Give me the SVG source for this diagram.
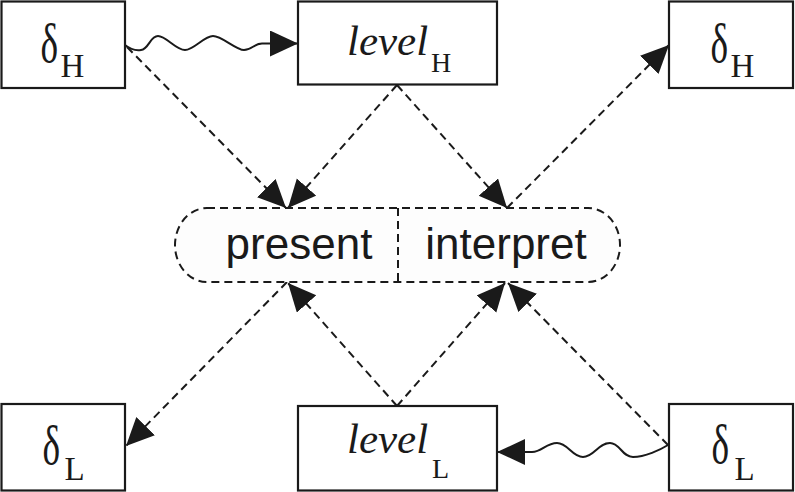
<svg xmlns="http://www.w3.org/2000/svg" width="795" height="492" viewBox="0 0 795 492">
  <defs>
    <style>
      .box { fill: #ffffff; stroke: #1a1a1a; stroke-width: 2.2; }
      .pill { fill: #fdfdfd; stroke: #1a1a1a; stroke-width: 2; stroke-dasharray: 8 5; }
      .dash { fill: none; stroke: #1a1a1a; stroke-width: 2; stroke-dasharray: 8 5; }
      .wave { fill: none; stroke: #1a1a1a; stroke-width: 2; }
      .greek { font-family: "Liberation Serif", "Times New Roman", serif; font-size: 55px; fill: #1a1a1a; }
      .sub { font-family: "Liberation Serif", "Times New Roman", serif; font-size: 33px; fill: #1a1a1a; }
      .lvl { font-family: "Liberation Serif", "Times New Roman", serif; font-size: 43px; font-style: italic; fill: #1a1a1a; }
      .lsub { font-family: "Liberation Serif", "Times New Roman", serif; font-size: 28px; fill: #1a1a1a; }
      .op { font-family: "Liberation Sans", Arial, sans-serif; font-size: 44px; fill: #1a1a1a; text-anchor: middle; }
    </style>
    <marker id="arr" markerUnits="userSpaceOnUse" markerWidth="30" markerHeight="28" refX="28" refY="13" orient="auto">
      <path d="M0,0 L28,13 L0,26 Z" fill="#1a1a1a"/>
    </marker>
  </defs>

  <g id="connectors">
    <path class="wave" marker-end="url(#arr)" d="M125,45 C130,49 135,51 141,50 C149,49 150,36 158,36 C166,36 176,50 185,50 C194,50 204,36 213,36 C222,36 236,50 244,50 C252,50 254,43.5 262,43.5 L298,43.5"/>
    <line class="dash" marker-end="url(#arr)" x1="127" y1="47" x2="286" y2="208"/>
    <line class="dash" marker-end="url(#arr)" x1="397" y1="85" x2="288" y2="208"/>
    <line class="dash" marker-end="url(#arr)" x1="397" y1="85" x2="507" y2="208"/>
    <line class="dash" marker-end="url(#arr)" x1="507" y1="208" x2="669" y2="45"/>
    <line class="dash" marker-end="url(#arr)" x1="287" y1="282" x2="126" y2="446"/>
    <line class="dash" marker-end="url(#arr)" x1="397" y1="406" x2="288" y2="283"/>
    <line class="dash" marker-end="url(#arr)" x1="397" y1="406" x2="505" y2="283"/>
    <line class="dash" marker-end="url(#arr)" x1="668" y1="445" x2="508" y2="283"/>
    <path class="wave" marker-end="url(#arr)" d="M668,445 C660,450 645,457 633,457 C622,457 620,443 610,443 C598,443 594,457 583,457 C572,457 568,443 557,443 C546,443 542,452 532,452 L497,452"/>
  </g>

  <g id="deltaH-left">
    <rect class="box" x="1.5" y="1.5" width="123.5" height="86.5"/>
    <text class="greek" transform="translate(40.5,62) scale(0.68,1)">δ</text>
    <text class="sub" x="60.5" y="77">H</text>
  </g>

  <g id="levelH">
    <rect class="box" x="298" y="1.5" width="199" height="83"/>
    <text class="lvl" x="347" y="55">level</text>
    <text class="lsub" x="431" y="72">H</text>
  </g>

  <g id="deltaH-right">
    <rect class="box" x="669" y="1.5" width="124" height="86.5"/>
    <text class="greek" transform="translate(710.5,62) scale(0.68,1)">δ</text>
    <text class="sub" x="730.5" y="77">H</text>
  </g>

  <g id="present-interpret">
    <rect class="pill" x="175" y="208" width="445" height="74" rx="32" ry="37"/>
    <line class="dash" x1="398" y1="208" x2="398" y2="282"/>
    <text class="op" x="299" y="259">present</text>
    <text class="op" x="506" y="259">interpret</text>
  </g>

  <g id="deltaL-left">
    <rect class="box" x="1.5" y="404" width="123.5" height="86.5"/>
    <text class="greek" transform="translate(42.5,464) scale(0.68,1)">δ</text>
    <text class="sub" x="64.5" y="480">L</text>
  </g>

  <g id="levelL">
    <rect class="box" x="298" y="406" width="199" height="84.5"/>
    <text class="lvl" x="347" y="453">level</text>
    <text class="lsub" x="432" y="478">L</text>
  </g>

  <g id="deltaL-right">
    <rect class="box" x="669" y="404" width="124" height="86.5"/>
    <text class="greek" transform="translate(711.5,463) scale(0.68,1)">δ</text>
    <text class="sub" x="734.5" y="480">L</text>
  </g>
</svg>
